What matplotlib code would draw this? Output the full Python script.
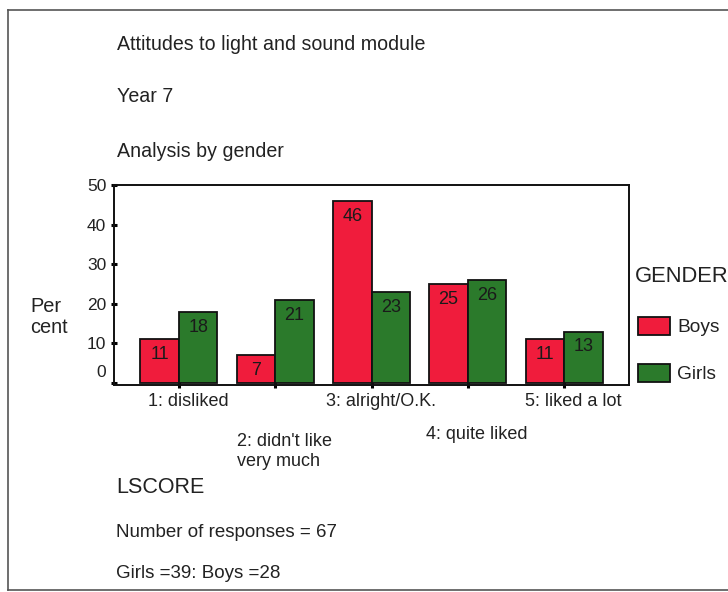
import matplotlib
matplotlib.use("Agg")
import matplotlib.pyplot as plt
import matplotlib.transforms as mtransforms
from matplotlib.lines import Line2D
import numpy as np

plt.rcParams['font.family'] = ['Liberation Sans', 'DejaVu Sans']

# Data: percentage of pupils per attitude score, split by gender
categories = ["1: disliked", "2: didn't like\nvery much", "3: alright/O.K.",
              "4: quite liked", "5: liked a lot"]
boys = [11, 7, 46, 25, 11]
girls = [18, 21, 23, 26, 13]
series_names = ["Boys", "Girls"]
y_ticks = [0, 10, 20, 30, 40, 50]

title_lines = ["Attitudes to light and sound module", "Year 7", "Analysis by gender"]
x_title = "LSCORE"
notes = ["Number of responses = 67", "Girls =39: Boys =28"]

RED = "#f01c3c"
GREEN = "#2b7a2b"
INK = "#222222"

W, H, DPI = 728, 592, 100
fig = plt.figure(figsize=(W / DPI, H / DPI), dpi=DPI)
fig.patch.set_facecolor("white")

def fx(px):
    return px / W

def fy(py):
    return 1 - py / H

ax = fig.add_axes([fx(114), fy(385), fx(629) - fx(114), fy(185) - fy(385)])

x = np.arange(len(categories))
bw = 0.4
b1 = ax.bar(x - bw / 2, boys, bw, color=RED, edgecolor="#111111", linewidth=1.3,
            label=series_names[0], zorder=2)
b2 = ax.bar(x + bw / 2, girls, bw, color=GREEN, edgecolor="#111111", linewidth=1.3,
            label=series_names[1], zorder=2)

# value labels inside the top of each bar
for bars, vals in ((b1, boys), (b2, girls)):
    for rect, v in zip(bars, vals):
        ax.annotate(f"{v}", xy=(rect.get_x() + rect.get_width() / 2, v),
                    xytext=(0, -5), textcoords="offset points",
                    ha="center", va="top", fontsize=13, color="#1a1a1a", zorder=3)

ax.set_xlim(-0.675, len(categories) - 1 + 0.675)
ax.set_ylim(-0.5, 50)
ax.set_yticks(y_ticks)
ax.set_yticklabels([str(t) for t in y_ticks], fontsize=12.5, color=INK)
ax.set_xticks(x)
ax.set_xticklabels([])
ax.tick_params(axis="y", direction="inout", length=5, width=2.2, pad=3)
ax.tick_params(axis="x", direction="inout", length=5, width=2.2)
for s in ax.spines.values():
    s.set_linewidth(1.4)
    s.set_color("#111111")

# the zero label sits a little above its tick
zero_lab = ax.get_yticklabels()[0]
zero_lab.set_transform(zero_lab.get_transform() +
                       mtransforms.ScaledTranslation(0, 12 / DPI, fig.dpi_scale_trans))

# staggered category labels below the axis (top-of-text drop in pixels)
label_drop_px = [8, 48, 8, 41, 8]
for xi, lab, drop in zip(x, categories, label_drop_px):
    ax.annotate(lab, xy=(xi, 0), xycoords=("data", "axes fraction"),
                xytext=(9 * 0.72, -drop * 0.72), textcoords="offset points",
                ha="center", va="top", multialignment="left",
                fontsize=13, color=INK, linespacing=1.22)

# titles
title_base = [50, 102, 157]
for t, yy in zip(title_lines, title_base):
    fig.text(fx(117), fy(yy), t, fontsize=14.1, va="baseline", ha="left", color=INK)

fig.text(fx(30), fy(317), "Per\ncent", fontsize=14.4, va="center", ha="left",
         color=INK, linespacing=1.12)

fig.text(fx(116), fy(493), x_title, fontsize=15.5, va="baseline", ha="left", color=INK)
fig.text(fx(116), fy(537), notes[0], fontsize=13.5, va="baseline", ha="left", color=INK)
fig.text(fx(116), fy(578), notes[1], fontsize=13.5, va="baseline", ha="left", color=INK)

# legend
fig.text(fx(635), fy(282), "GENDER", fontsize=15.8, va="baseline", ha="left", color=INK)
leg = fig.legend(handles=[b1, b2], labels=series_names, loc="upper left",
                 bbox_to_anchor=(fx(638), fy(317)), frameon=False, fontsize=13.75,
                 handlelength=1.68, handleheight=1.05, labelspacing=1.45,
                 handletextpad=0.37, borderpad=0, borderaxespad=0)
for txt in leg.get_texts():
    txt.set_color(INK)

# page frame
frame_kw = dict(color="#555555", linewidth=1.2, transform=fig.transFigure)
fig.add_artist(Line2D([fx(8), 1], [fy(10), fy(10)], **frame_kw))
fig.add_artist(Line2D([fx(8), fx(8)], [fy(10), fy(590)], **frame_kw))
fig.add_artist(Line2D([fx(8), 1], [fy(590), fy(590)], **frame_kw))

fig.savefig("out.png", dpi=DPI)
